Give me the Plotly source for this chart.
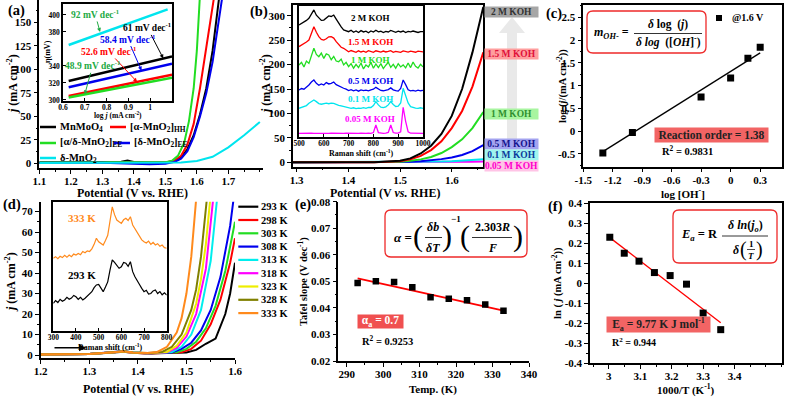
import plotly.graph_objects as go

W, H = 785, 397
FONT = "Liberation Serif"

# ---------------- (a) LSV of the catalysts ----------------
a_v_mnmoo4 = [1.10, 1.30, 1.36, 1.38, 1.40, 1.45, 1.50, 1.53, 1.55, 1.57, 1.59, 1.61, 1.63, 1.65, 1.672]
a_j_mnmoo4 = [1.0, 1.2, 1.8, 3.0, 1.5, 0.8, 1.0, 2.5, 6, 15, 30, 52, 80, 120, 180]
a_v_alpha_hh = [1.10, 1.30, 1.45, 1.50, 1.53, 1.55, 1.57, 1.59, 1.61, 1.63, 1.656]
a_j_alpha_hh = [0.8, 0.8, 0.7, 1.0, 3, 8, 20, 42, 80, 125, 180]
a_v_ad_ee = [1.10, 1.30, 1.45, 1.50, 1.52, 1.54, 1.56, 1.575, 1.59, 1.60, 1.61]
a_j_ad_ee = [1.2, 1.2, 1.0, 1.2, 2.5, 8, 22, 45, 80, 120, 180]
a_v_delta_ee = [1.10, 1.30, 1.40, 1.45, 1.50, 1.53, 1.55, 1.57, 1.59, 1.61, 1.63, 1.65, 1.682]
a_j_delta_ee = [0.5, 0.5, -0.5, -1.0, -0.5, 1.5, 5, 13, 28, 50, 75, 108, 180]
a_v_delta = [1.10, 1.30, 1.50, 1.55, 1.60, 1.65, 1.70, 1.75, 1.80]
a_j_delta = [0.3, 0.3, 0.4, 0.8, 2.5, 7, 17, 30, 44]
a_ticks = [1.1, 1.2, 1.3, 1.4, 1.5, 1.6, 1.7]

# inset (a): Tafel lines
tafel_logj = [0.626, 1.10]
tafel_logj_delta = [0.626, 1.08]
eta_mnmoo4 = [322.4, 351.3]
eta_alpha_hh = [304.7, 329.6]
eta_ad_ee = [303.0, 326.2]
eta_delta_ee = [315.0, 342.7]
eta_delta = [364.7, 406.5]

# ---------------- (b) LSV in KOH ----------------
b_v = [1.293, 1.45, 1.50, 1.52, 1.54, 1.56, 1.58, 1.60, 1.62, 1.64, 1.661]
b_j_2m = [0, 0.3, 3, 8, 18, 34, 58, 95, 150, 225, 318]
b_j_15m = [0, 0.2, 2, 6, 13, 25, 43, 70, 105, 155, 225]
b_j_1m = [0, 0.1, 1, 3, 6, 11, 19, 31, 47, 70, 103]
b_j_05m = [0, 0, 0.3, 1, 2, 4, 6.5, 10, 15, 23, 35]
b_j_01m = [0, 0, 0, 0.2, 0.5, 1, 1.5, 2.2, 3.2, 4.5, 6]
b_j_005m = [0, 0, 0, 0, 0.1, 0.2, 0.4, 0.6, 0.9, 1.2, 1.6]

# inset (b): Raman spectra (offset, a.u.)
raman_b = list(range(500, 1001, 10))
rb_2m = [85.5, 86.5, 87.5, 89, 90.6, 94, 97, 93, 90.6, 89, 89.3, 91, 92.4, 92, 93.1, 90, 86.8,
         84, 81.7, 81, 80.4, 81.5, 80, 81, 79.8, 81.2, 80.2, 80.8, 79.6, 80.9, 80.1, 81.5, 80.3,
         80.7, 79.7, 80.6, 80.2, 81.3, 80.5, 79.9, 80.8, 80.2, 80.9, 79.7, 80.6, 80.3, 80.9, 80.1,
         79.8, 80.5, 80.4]
rb_15m = [69, 70, 71.5, 72.5, 74, 79, 84.2, 80, 76.6, 74.5, 74, 75, 76.5, 76.6, 75.5, 72.8, 70.5,
          68.5, 67.7, 66.5, 65, 66, 65.2, 64.6, 65.8, 64.9, 65.5, 64.7, 65.9, 65.1, 64.6, 65.8, 65.2,
          64.8, 65.6, 64.9, 65.3, 65.9, 64.7, 65.4, 65, 64.6, 65.7, 65.1, 64.8, 65.5, 65, 64.7, 65.6,
          65.2, 65]
rb_1m = [55, 57, 53.5, 58, 56.2, 62, 67.7, 63, 61.3, 64, 60, 63.5, 62.6, 59, 61.5, 58, 57.5, 59.5,
         55, 57, 53.7, 56, 52.5, 55.5, 53, 56.5, 52, 55, 53.5, 57, 52.5, 55.8, 53, 56, 52.2, 54.8, 57,
         53.2, 55.5, 52.5, 56, 53.5, 55, 52.8, 56.5, 53, 57.2, 54, 52.6, 55.5, 53.5]
rb_05m = [35.9, 37, 36.5, 38, 39.7, 42, 43.5, 41, 39.5, 40.5, 39.7, 41.5, 40.5, 41, 42, 40, 39,
          37.8, 37.2, 36.5, 35.5, 36.2, 35.3, 35.9, 35, 36, 35.4, 35.8, 35.2, 36, 36.5, 37.9, 36.8,
          35.5, 35.3, 35.8, 36.2, 37.5, 36, 35.4, 35, 37, 43.5, 40, 36, 35.2, 35.6, 35.1, 35.8, 35.3,
          35.6]
rb_01m = [21.9, 22.5, 23.5, 24, 25.7, 27, 28.2, 27, 25.5, 25, 25.2, 25.8, 25.4, 25.9, 25.7, 24.8,
          24.2, 23.7, 23.2, 22.6, 22.2, 21.8, 22.3, 21.7, 22.1, 21.8, 22.4, 21.9, 22.6, 22.5, 24, 27,
          24.5, 22.8, 22.4, 23, 24.5, 27, 24.8, 23.3, 23.5, 26, 37.2, 30.8, 26, 23.2, 22.5, 22.1, 21.8,
          22.3, 21.9]
rb_005m = [2.8, 2.9, 2.7, 3.0, 2.8, 2.9, 2.8, 2.7, 2.9, 2.8, 2.9, 2.8, 2.7, 2.9, 2.8, 2.8, 2.9, 2.7,
           2.8, 2.9, 2.8, 2.7, 2.9, 2.8, 2.8, 2.9, 2.7, 2.8, 2.9, 2.8, 3.4, 9.2, 3.4, 2.9, 2.8, 2.9,
           3.5, 9.2, 3.4, 2.9, 3.0, 4.0, 22.7, 12.0, 4.0, 2.9, 2.8, 2.9, 2.7, 2.8, 2.8]

# ---------------- (c) reaction order ----------------
log_oh = [-1.301, -1.0, -0.301, 0.0, 0.176, 0.301]
log_j_16 = [-0.48, -0.03, 0.75, 1.17, 1.60, 1.84]
fit_c_x = [-1.301, 0.301]
fit_c_y = [-0.45, 1.72]

# ---------------- (d) LSV at different temperatures ----------------
temps_lbl = ["293 K", "298 K", "303 K", "308 K", "313 K", "318 K", "323 K", "328 K", "333 K"]
temp_colors = ["#000000", "#ff0000", "#22dd22", "#0000ee", "#00eeee", "#ff00ff", "#eeee00",
               "#808000", "#ff8a1c"]
d_v = [
    [1.20, 1.30, 1.35, 1.37, 1.39, 1.42, 1.50, 1.52, 1.54, 1.56, 1.58, 1.59, 1.60],
    [1.20, 1.30, 1.35, 1.37, 1.39, 1.42, 1.49, 1.51, 1.53, 1.55, 1.57, 1.59, 1.60],
    [1.20, 1.30, 1.35, 1.37, 1.39, 1.42, 1.48, 1.50, 1.52, 1.54, 1.56, 1.58, 1.60],
    [1.20, 1.30, 1.35, 1.37, 1.39, 1.42, 1.47, 1.49, 1.51, 1.53, 1.55, 1.57, 1.59, 1.597],
    [1.20, 1.30, 1.35, 1.37, 1.39, 1.42, 1.47, 1.49, 1.51, 1.53, 1.55, 1.563],
    [1.20, 1.30, 1.35, 1.37, 1.39, 1.42, 1.46, 1.48, 1.50, 1.52, 1.54, 1.555],
    [1.20, 1.30, 1.35, 1.37, 1.39, 1.42, 1.46, 1.48, 1.50, 1.52, 1.53, 1.54, 1.549],
    [1.20, 1.30, 1.35, 1.37, 1.39, 1.42, 1.45, 1.47, 1.49, 1.51, 1.52, 1.53, 1.542],
    [1.20, 1.30, 1.35, 1.37, 1.39, 1.42, 1.44, 1.46, 1.48, 1.49, 1.50, 1.51, 1.52],
]
d_j = [
    [0.3, 0.5, 1.2, 1.6, 1.1, 0.8, 1.2, 2.5, 5.5, 8, 20, 30, 45],
    [0.3, 0.5, 1.3, 1.7, 1.1, 0.8, 1.3, 3, 7, 15, 27, 45, 57],
    [0.3, 0.5, 1.4, 1.8, 1.2, 0.9, 1.3, 3, 6.5, 13, 24, 41, 65],
    [0.3, 0.5, 1.5, 2.0, 1.2, 0.9, 1.2, 3, 6, 12, 22, 38, 63, 76],
    [0.3, 0.5, 1.4, 1.8, 1.2, 0.9, 1.5, 4, 10, 22, 46, 76],
    [0.3, 0.5, 1.3, 1.7, 1.1, 0.9, 1.3, 3.5, 9, 20, 42, 76],
    [0.3, 0.5, 1.3, 1.7, 1.1, 0.9, 1.5, 4.5, 11, 25, 37, 54, 76],
    [0.3, 0.5, 1.4, 1.8, 1.2, 1.0, 1.5, 4, 10, 22, 32, 48, 76],
    [0.3, 0.5, 1.3, 1.8, 1.2, 1.0, 1.5, 4, 11, 18, 30, 48, 76],
]

# inset (d): Raman spectra at 293 K and 333 K
raman_d = list(range(300, 801, 10))
rd_333 = [56.2, 57.5, 56, 57.8, 56.8, 58.5, 57, 58.8, 57.5, 59.5, 58.8, 60, 59, 61.5, 60.5, 62,
          61.5, 63.5, 67, 71.7, 69, 67.5, 66.5, 70, 74, 85, 96, 90, 85.8, 84.5, 83.3, 86, 87.2, 85.5,
          88.4, 82, 79, 75.6, 73, 70.5, 69, 68, 69.5, 67, 68.5, 66.5, 67.5, 65.5, 66.5, 64.5, 64]
rd_293 = [21.4, 23.5, 22, 24.5, 23, 24, 26, 24.5, 25.5, 27.5, 26.5, 24.5, 26, 24, 25.3, 27, 28.5,
          30.4, 33.5, 35.6, 36, 33, 30.4, 34, 38, 47, 55, 53, 51, 48.5, 49.7, 53, 52.4, 50, 53.6,
          45.9, 42, 39.4, 36, 33, 30.4, 31.5, 28.5, 29, 31, 31.7, 29, 30.5, 28, 29.5, 27.8]

# ---------------- (e) Tafel slope vs temperature ----------------
temp_k = [293, 298, 303, 308, 313, 318, 323, 328, 333]
tafel_slope = [0.0494, 0.0500, 0.0498, 0.0478, 0.0440, 0.0434, 0.0429, 0.0413, 0.0389]
fit_e_x = [293, 333]
fit_e_y = [0.0511, 0.0390]

# ---------------- (f) Arrhenius plot ----------------
inv_t = [3.003, 3.049, 3.096, 3.145, 3.195, 3.247, 3.300, 3.356]
ln_j = [0.23, 0.15, 0.11, 0.053, 0.038, -0.005, -0.15, -0.233]
fit_f_x = [3.003, 3.356]
fit_f_y = [0.228, -0.198]

fig = go.Figure()


def curve(x, y, color, ax, width=2.0):
    fig.add_trace(go.Scatter(x=x, y=y, mode="lines", line=dict(color=color, width=width),
                             xaxis="x" + ax, yaxis="y" + ax, hoverinfo="skip"))


def dots(x, y, ax, size=7):
    fig.add_trace(go.Scatter(x=x, y=y, mode="markers",
                             marker=dict(symbol="square", size=size, color="black"),
                             xaxis="x" + ax, yaxis="y" + ax, hoverinfo="skip"))


# (a)
curve(a_v_mnmoo4, a_j_mnmoo4, "black", "")
curve(a_v_alpha_hh, a_j_alpha_hh, "#ff0000", "")
curve(a_v_ad_ee, a_j_ad_ee, "#22dd22", "")
curve(a_v_delta_ee, a_j_delta_ee, "#0000ee", "")
curve(a_v_delta, a_j_delta, "#00e5ee", "")
curve(tafel_logj, eta_mnmoo4, "black", "2", 2.5)
curve(tafel_logj, eta_alpha_hh, "#ff0000", "2", 2.5)
curve(tafel_logj, eta_ad_ee, "#22dd22", "2", 2.5)
curve(tafel_logj, eta_delta_ee, "#0000ee", "2", 2.5)
curve(tafel_logj_delta, eta_delta, "#00e5ee", "2", 2.5)

# (b)
for jj, col in [(b_j_005m, "#ff00ff"), (b_j_01m, "#00e5ee"), (b_j_05m, "#0000ee"),
                (b_j_1m, "#22dd22"), (b_j_15m, "#ff0000"), (b_j_2m, "black")]:
    curve(b_v, jj, col, "3")
for yy, col in [(rb_2m, "black"), (rb_15m, "#ff0000"), (rb_1m, "#22dd22"), (rb_05m, "#0000ee"),
                (rb_01m, "#00e5ee"), (rb_005m, "#ff00ff")]:
    curve(raman_b, yy, col, "4", 1.3)

# (c)
curve(fit_c_x, fit_c_y, "black", "5", 1.3)
dots(log_oh, log_j_16, "5")

# (d)
for vv, jj, col in zip(d_v, d_j, temp_colors):
    curve(vv, jj, col, "6")
curve(raman_d, rd_333, "#ff8a1c", "7", 1.2)
curve(raman_d, rd_293, "black", "7", 1.2)

# (e)
curve(fit_e_x, fit_e_y, "#ff0000", "8", 1.8)
dots(temp_k, tafel_slope, "8", 6.5)

# (f)
curve(fit_f_x, fit_f_y, "#ff0000", "9", 1.3)
dots(inv_t, ln_j, "9")


def tf(size):
    return dict(family=FONT, size=size, color="black", weight="bold")


def xax(l, r, rng, anchor, size=11, **kw):
    d = dict(domain=[l / W, r / W], range=rng, anchor=anchor, showline=True, linecolor="black",
             linewidth=1.5, ticks="outside", ticklen=4, tickwidth=1.2, tickcolor="black",
             showgrid=False, zeroline=False, tickfont=tf(size), ticklabelstandoff=-2)
    d.update(kw)
    return d


def yax(t, b, rng, anchor, size=11, **kw):
    d = dict(domain=[1 - b / H, 1 - t / H], range=rng, anchor=anchor, showline=True,
             linecolor="black", linewidth=1.5, ticks="outside", ticklen=4, tickwidth=1.2,
             tickcolor="black", showgrid=False, zeroline=False, tickfont=tf(size))
    d.update(kw)
    return d


def minor(n):
    return dict(ticks="outside", ticklen=2, tickcolor="black", dtick=n)


no_lbl = dict(showticklabels=False, ticks="")
inset_x = dict(mirror=True, ticks="inside", ticklen=3, tickwidth=1)

fig.update_layout(
    width=W, height=H, margin=dict(l=0, r=0, t=0, b=0, autoexpand=False),
    paper_bgcolor="white", plot_bgcolor="rgba(0,0,0,0)", showlegend=False,
    font=dict(family=FONT, color="black"),
    # (a)
    xaxis=xax(39.3, 263, [1.1, 1.81], "y", tickvals=a_ticks, minor=minor(0.05)),
    yaxis=yax(0, 168.3, [-5.3, 174], "x", dtick=25, minor=minor(12.5)),
    xaxis2=xax(63, 172, [0.6, 1.1], "y2", size=7.5, **inset_x,
               tickvals=[0.6, 0.7, 0.8, 0.9, 1.0], ticktext=["0.6", "0.7", "0.8", "0.9", "1"]),
    yaxis2=yax(4, 101, [298.8, 412.9], "x2", size=7.5, **inset_x,
               tickvals=[300, 320, 340, 380, 400]),
    # (b)
    xaxis3=xax(293, 483.3, [1.293, 1.661], "y3", mirror=True, tickvals=[1.3, 1.4, 1.5, 1.6],
               minor=minor(0.05)),
    yaxis3=yax(5, 166.7, [-9, 322], "x3", mirror=True, dtick=50, minor=minor(25)),
    xaxis4=xax(299, 423, [500, 1000], "y4", size=7.5, dtick=100, **inset_x),
    yaxis4=yax(6, 137, [0, 100], "x4", mirror=True, **no_lbl),
    # (c)
    xaxis5=xax(583.3, 781.7, [-1.5, 0.52], "y5", mirror=True,
               tickvals=[-1.5, -1.2, -0.9, -0.6, -0.3, 0, 0.3],
               ticktext=["-1.5", "-1.2", "-0.9", "-0.6", "-0.3", "0", "0.3"]),
    yaxis5=yax(5, 166.7, [-0.78, 2.77], "x5", mirror=True,
               tickvals=[-0.5, 0, 0.5, 1, 1.5, 2, 2.5],
               ticktext=["-0.5", "0", "0.5", "1", "1.5", "2", "2.5"], minor=minor(0.25)),
    # (d)
    xaxis6=xax(40.7, 235, [1.2, 1.6], "y6", dtick=0.1, minor=minor(0.05)),
    yaxis6=yax(201.7, 358.3, [-1.6, 74.8], "x6", dtick=10, minor=minor(5)),
    xaxis7=xax(53.3, 166.7, [300, 800], "y7", size=7.5, dtick=100, **inset_x),
    yaxis7=yax(201.7, 331, [0, 100], "x7", mirror=True, **no_lbl),
    # (e)
    xaxis8=xax(338.3, 529, [287.7, 340], "y8", dtick=10, minor=minor(5)),
    yaxis8=yax(201.7, 361, [0.02, 0.08], "x8", dtick=0.01, tickformat=".2f",
               minor=minor(0.005)),
    # (f)
    xaxis9=xax(590, 781.7, [2.94, 3.55], "y9", mirror=True, tickvals=[3, 3.1, 3.2, 3.3, 3.4],
               ticktext=["3", "3.1", "3.2", "3.3", "3.4"], minor=minor(0.05)),
    yaxis9=yax(203.3, 363, [-0.4, 0.4], "x9", mirror=True,
               tickvals=[-0.4, -0.3, -0.2, -0.1, 0, 0.1, 0.2, 0.3, 0.4],
               ticktext=["-0.4", "-0.3", "-0.2", "-0.1", "0", "0.1", "0.2", "0.3", "0.4"],
               minor=minor(0.05)),
)

ann = []
shapes = []


def txt(x, y, text, size=11, color="black", xanchor="center", angle=0, **kw):
    d = dict(x=x / W, y=1 - y / H, xref="paper", yref="paper", text=text, showarrow=False,
             xanchor=xanchor, yanchor="middle", textangle=angle,
             font=dict(family=FONT, size=size, color=color))
    d.update(kw)
    ann.append(d)


def hline(x0, x1, y, color="black", width=1.0):
    shapes.append(dict(type="line", xref="paper", yref="paper", x0=x0 / W, x1=x1 / W,
                       y0=1 - y / H, y1=1 - y / H, line=dict(color=color, width=width)))


def rbox(x0, y0, x1, y1, r=6, color="#ee2a2a"):
    def p(x, y):
        return f"{x / W:.5f},{1 - y / H:.5f}"
    path = ("M " + p(x0 + r, y0) + " L " + p(x1 - r, y0) + " Q " + p(x1, y0) + " " + p(x1, y0 + r) +
            " L " + p(x1, y1 - r) + " Q " + p(x1, y1) + " " + p(x1 - r, y1) +
            " L " + p(x0 + r, y1) + " Q " + p(x0, y1) + " " + p(x0, y1 - r) +
            " L " + p(x0, y0 + r) + " Q " + p(x0, y0) + " " + p(x0 + r, y0) + " Z")
    shapes.append(dict(type="path", xref="paper", yref="paper", path=path,
                       line=dict(color=color, width=1.3), fillcolor="rgba(0,0,0,0)"))


# panel letters
for lbl, x, y in [("(a)", 16, 10), ("(b)", 259, 12), ("(c)", 554, 14), ("(d)", 12, 205),
                  ("(e)", 303, 205), ("(f)", 555, 206)]:
    txt(x, y, "<b>" + lbl + "</b>", 14.5)

# axis titles
jt = "<b><i>j</i> (mA cm<sup>-2</sup>)</b>"
txt(132, 193, "<b>Potential (V vs. RHE)</b>", 12)
txt(13, 84, jt, 12, angle=-90)
txt(385, 193, "<b>Potential (V <i>vs.</i> RHE)</b>", 12)
txt(266, 84, jt, 12, angle=-90)
txt(683, 193, "<b>log [OH<sup>-</sup>]</b>", 11)
txt(562, 86, "<b>log (<i>j</i>/(mA cm<sup>-2</sup>))</b>", 10.5, angle=-90)
txt(138, 389, "<b>Potential (V vs. RHE)</b>", 12)
txt(10, 282, jt, 12, angle=-90)
txt(433, 389, "<b>Temp. (K)</b>", 11)
txt(303, 282, "<b>Tafel slope (V dec<sup>-1</sup>)</b>", 10.5, angle=-90)
txt(686, 389, "<b>1000/T (K<sup>-1</sup>)</b>", 11)
txt(557, 283, "<b>ln ( <i>j</i> (mA cm<sup>-2</sup>))</b>", 10.5, angle=-90)
# inset titles
txt(118, 115, "<b>log <i>j</i> (mA cm<sup>-2</sup>)</b>", 7.5)
txt(47, 52, "<b>η(mV)</b>", 8, angle=-90)
txt(361, 153, "<b>Raman shift (cm<sup>-1</sup>)</b>", 8)
txt(110, 347, "<b>Raman shift (cm<sup>-1</sup>)</b>", 8)

# (a) legend
legend_a = [(40, 127, "black", "MnMoO<sub>4</sub>"), (110, 127, "#ff0000", "[α-MnO<sub>2</sub>]<sub>HH</sub>"),
            (40, 143, "#22dd22", "[α/δ-MnO<sub>2</sub>]<sub>EE</sub>"),
            (114, 143, "#0000ee", "[δ-MnO<sub>2</sub>]<sub>EE</sub>"),
            (40, 158, "#00e5ee", "δ-MnO<sub>2</sub>")]
for x, y, col, name in legend_a:
    hline(x, x + 16, y, col, 2.5)
    txt(x + 18, y, "<b>" + name + "</b>", 10.5, xanchor="left")

# (a) inset slope labels with arrows
slopes = [("92 mV dec<sup>-1</sup>", "#22aa44", 0.77, 380.0, -5, -18),
          ("61 mV dec<sup>-1</sup>", "black", 1.06, 348.9, -16, -31),
          ("58.4 mV dec<sup>-1</sup>", "#0000ee", 0.96, 334.6, -14, -32),
          ("52.6 mV dec<sup>-1</sup>", "#ff0000", 0.94, 321.2, -29, -31),
          ("48.9 mV dec<sup>-1</sup>", "#22aa44", 0.70, 306.7, 8, -29)]
for text, col, hx, hy, dx, dy in slopes:
    ann.append(dict(x=hx, y=hy, xref="x2", yref="y2", ax=dx, ay=dy, text="<b>" + text + "</b>",
                    showarrow=True, arrowhead=2, arrowsize=0.8, arrowwidth=1, arrowcolor=col,
                    font=dict(family=FONT, size=9.5, color=col)))

# (b) inset labels
for y, col, name in [(18, "black", "2 M KOH"), (42, "#ff0000", "1.5 M KOH"), (60, "#22dd22", "1 M KOH"),
                     (81, "#0000ee", "0.5 M KOH"), (99, "#00e5ee", "0.1 M KOH"),
                     (119, "#ff00ff", "0.05 M KOH")]:
    txt(370, y, "<b>" + name + "</b>", 9, col)

# (b) big arrow and right-side labels
arrow_pts = [(507, 170), (517, 170), (517, 33), (525, 33), (512, 17), (499, 33), (507, 33)]
shapes.append(dict(type="path", xref="paper", yref="paper", layer="below",
                   path="M " + " L ".join(f"{x / W:.5f},{1 - y / H:.5f}" for x, y in arrow_pts) + " Z",
                   fillcolor="#e9e9e9", line=dict(width=0)))
for y, bg, col, name in [(12, "#a6a6a6", "#333333", "2 M KOH"), (54, "#ff9e9e", "#e0103a", "1.5 M KOH"),
                         (114, "#a8f5a0", "#2f8f2f", "1 M KOH"), (143.5, "#a3a3f0", "#14148c", "0.5 M KOH"),
                         (154.5, "#a0f5ee", "#0a3a9a", "0.1 M KOH"),
                         (165.5, "#ffc4e6", "#ff00cc", "0.05 M KOH")]:
    txt(511.5, y, "<b>" + name + "</b>", 9.5, col, bgcolor=bg, width=53, height=10, borderpad=0)

# (c) formula, legend, fit text
rbox(587, 11, 706, 53)
txt(611, 33, "<b><i>m</i><sub><i>OH</i>-</sub> =</b>", 12)
txt(668, 25, "<b><i>δ</i> log  (<i>j</i>)</b>", 11.5)
hline(634, 702, 33.5, width=0.8)
txt(668, 42, "<b><i>δ log</i>  ([<i>OH</i>]<sup>-</sup>)</b>", 11.5)
shapes.append(dict(type="rect", xref="paper", yref="paper", x0=716 / W, x1=722 / W,
                   y0=1 - 21 / H, y1=1 - 15 / H, fillcolor="black", line=dict(width=0)))
txt(730, 18, "<b>@1.6 V</b>", 10, xanchor="left")
txt(711.5, 135, "<b>Reaction order = 1.38</b>", 11.5, "#222222", bgcolor="#f26464", width=113,
    height=14, borderpad=0)
txt(660, 150, "<b>R<sup>2</sup> = 0.9831</b>", 10.5, xanchor="left")

# (d) legend, inset labels, arrow
for i, (lbl, col) in enumerate(zip(temps_lbl, temp_colors)):
    y = 206.7 + 13.3 * i
    hline(238.3, 258.3, y, col, 2.2)
    txt(259, y, "<b>" + lbl + "</b>", 10.5, xanchor="left")
txt(82, 218, "<b>333 K</b>", 11, "#ff8a1c")
txt(82, 275, "<b>293 K</b>", 11, "black")
ann.append(dict(x=86 / W, y=1 - 347.7 / H, xref="paper", yref="paper", ax=-33, ay=0, text="",
                showarrow=True, arrowhead=2, arrowsize=1, arrowwidth=1.4, arrowcolor="black"))

# (e) formula and fit text
rbox(385, 210, 527, 257)
txt(403, 237, "<b><i>α</i> =</b>", 13)
txt(418, 236, "(", 30)
txt(433, 227, "<b><i>δb</i></b>", 12)
hline(425, 442, 237.5, width=0.8)
txt(433, 248, "<b><i>δT</i></b>", 12)
txt(447, 236, ")", 30)
txt(456, 219, "<b>−1</b>", 9)
txt(465, 236, "(", 30)
txt(492, 227, "<b>2.303<i>R</i></b>", 12)
hline(472, 512, 237.5, width=0.8)
txt(492, 248, "<b><i>F</i></b>", 12)
txt(518, 236, ")", 30)
txt(380.5, 321.5, "<b>α<sub>a</sub> = 0.7</b>", 11.5, "white", bgcolor="#f05050", width=45,
    height=13, borderpad=0)
txt(360, 340, "<b>R<sup>2</sup> = 0.9253</b>", 10.5, xanchor="left")

# (f) formula and fit text
rbox(673, 210, 777, 263)
txt(720, 235, "<b><i>E<sub>a</sub></i> = R</b>", 12.5, xanchor="right")
txt(745, 226, "<b><i>δ ln</i>(<i>j<sub>o</sub></i>)</b>", 12)
hline(722, 768, 236, width=0.8)
txt(736, 250, "<b><i>δ</i></b>", 12)
txt(743, 250, "(", 20)
txt(751, 244, "<b>1</b>", 9)
hline(747, 755, 249.5, width=0.7)
txt(751, 256, "<b><i>T</i></b>", 9)
txt(759, 250, ")", 20)
txt(658.5, 324.5, "<b>E<sub>a</sub> = 9.77 K J mol<sup>-1</sup></b>", 11.5, "#222222",
    bgcolor="#f26464", width=103, height=15, borderpad=0)
txt(610, 342, "<b>R<sup>2</sup> = 0.944</b>", 10, xanchor="left")

fig.update_layout(annotations=ann, shapes=shapes)
# the page body has a default 8px margin; drop it so the figure sits at the window origin
fig.write_html("out.html", config={"displayModeBar": False},
               post_script="document.body.style.margin='0px';")
